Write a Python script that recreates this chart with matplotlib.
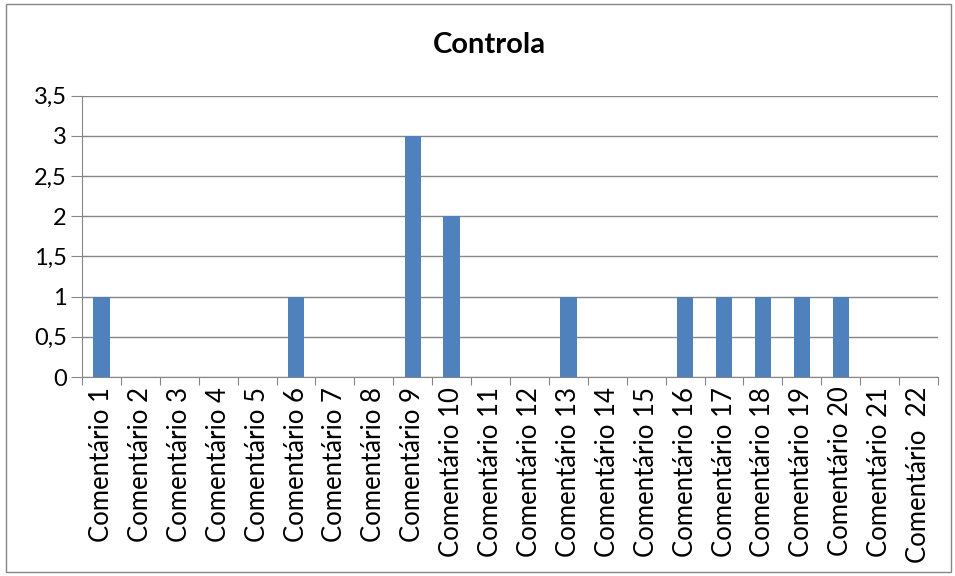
import matplotlib
matplotlib.use("Agg")
import matplotlib.pyplot as plt
from matplotlib.patches import Rectangle
import numpy as np

categories = [f"Comentário {i}" for i in range(1, 22)] + ["Comentário  22"]
values = [1, 0, 0, 0, 0, 1, 0, 0, 3, 2, 0, 0, 1, 0, 0, 1, 1, 1, 1, 1, 0, 0]
yticks = [0, 0.5, 1, 1.5, 2, 2.5, 3, 3.5]
ytick_labels = ["0", "0,5", "1", "1,5", "2", "2,5", "3", "3,5"]
title = "Controla"

plt.rcParams['font.family'] = ['Lato', 'DejaVu Sans']

fig = plt.figure(figsize=(9.55, 5.76), dpi=100)
fig.patches.append(Rectangle((6/955, 4/576), 945/955, 568/576, transform=fig.transFigure,
                             fill=False, edgecolor='#868686', linewidth=1))
ax = fig.add_axes([82/955, 1-377/576, (938-82)/955, (377-95.5)/576])

x = np.arange(len(categories))
ax.bar(x, values, width=0.42, color='#4F81BD', zorder=3)
ax.set_xlim(-0.5, len(categories)-0.5)
ax.set_ylim(0, 3.5)
ax.set_yticks(yticks)
ax.set_yticklabels(ytick_labels, fontsize=17)
ax.yaxis.grid(True, color='#868686', linewidth=1, zorder=0)
ax.set_xticks(np.arange(len(categories)+1) - 0.5, minor=False)
ax.set_xticklabels([])
ax.set_xticks(x, minor=True)
ax.set_xticklabels(categories, minor=True, rotation=90, fontsize=18.5)
ax.tick_params(axis='x', which='minor', length=0, pad=7)
ax.tick_params(axis='x', which='major', length=6, color='#868686', direction='out')
ax.tick_params(axis='y', length=8, color='#868686', direction='out', pad=3)
for s in ['top', 'right']:
    ax.spines[s].set_visible(False)
for s in ['left', 'bottom']:
    ax.spines[s].set_color('#868686')
fig.text(489/955, 1-45/576, title, ha='center', va='center', fontsize=21, fontweight='bold')
fig.savefig('out.png', dpi=100)
